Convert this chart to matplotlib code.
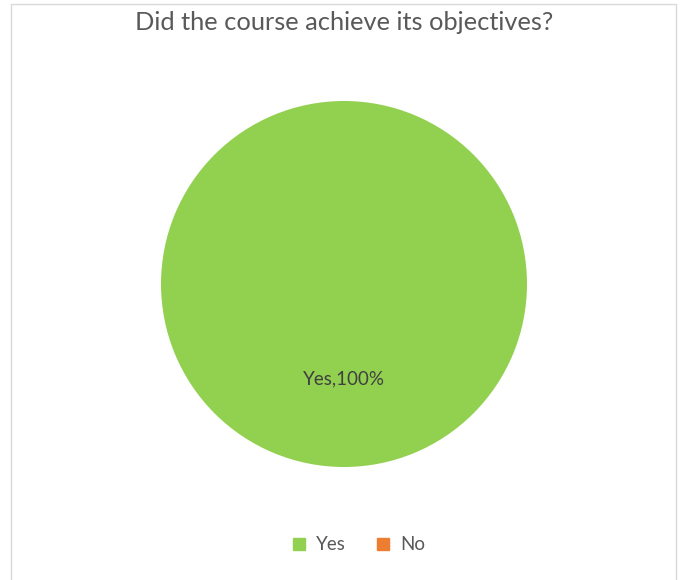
import matplotlib
matplotlib.use("Agg")
import matplotlib.pyplot as plt
from matplotlib.patches import Rectangle
from matplotlib.lines import Line2D

plt.rcParams['font.family'] = ['Lato', 'DejaVu Sans']

title = "Did the course achieve its objectives?"
categories = ["Yes", "No"]
values = [100, 0]
colors = ["#92D050", "#ED7D31"]

W, H = 685, 580
fig = plt.figure(figsize=(W / 100, H / 100), dpi=100)

# pie box: centre (344, 284), radius 183 px
cx, cy, r = 344, 284, 183
ax = fig.add_axes([(cx - r) / W, (H - cy - r) / H, 2 * r / W, 2 * r / H])

names = iter(categories)


def pct_label(p):
    name = next(names)
    return "" if p == 0 else f"{name},{p:.0f}%"


wedges, texts, autotexts = ax.pie(values, colors=colors, startangle=90,
                                  counterclock=False, autopct=pct_label,
                                  pctdistance=0.52,
                                  textprops=dict(color="#404040", fontsize=13.5))
ax.set_xlim(-1, 1)
ax.set_ylim(-1, 1)
ax.set_aspect("equal")
ax.axis("off")

fig.text(cx / W, 1 - 23 / H, title, ha="center", va="center",
         fontsize=18.3, color="#595959")

handles = [Line2D([], [], marker="s", linestyle="none", markersize=9,
                  markerfacecolor=c, markeredgecolor=c) for c in colors]
fig.legend(handles, categories, loc="center", bbox_to_anchor=(357 / W, 1 - 545 / H),
           ncol=2, frameon=False, fontsize=13.5, labelcolor="#595959",
           handlelength=1.0, handletextpad=0.4, columnspacing=1.5,
           borderpad=0)

# chart area border
fig.patches.append(Rectangle((11 / W, -0.01), 665 / W, 1.01 - 4 / H,
                             transform=fig.transFigure, fill=False,
                             edgecolor="#D9D9D9", linewidth=1))

fig.savefig("out.png", dpi=100)
